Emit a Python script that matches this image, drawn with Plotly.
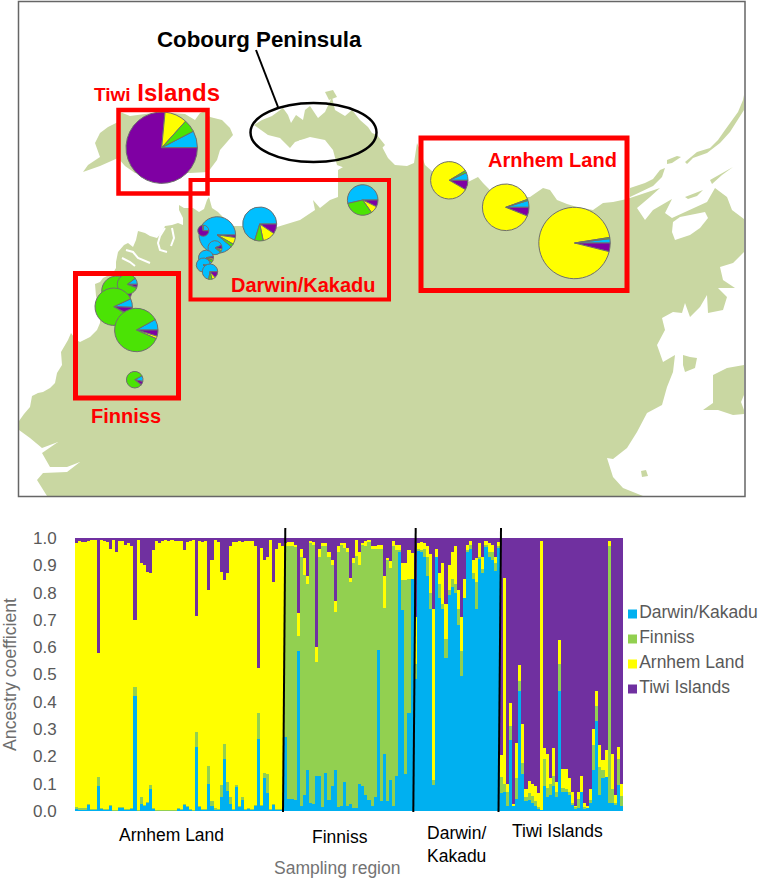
import plotly.graph_objects as go

W, H = 759, 879
FONT = "Liberation Sans"

# ---------- ancestry coefficients: cumulative tops (blue, blue+green, blue+green+yellow); purple fills to 1
arnhem_rows = [
(.01,.015,.98),(.005,.01,.99),(.005,.01,.985),(.005,.01,.985),(.025,.027,.99),(.005,.008,.995),(.005,.008,.995),
(.09,.125,.58),(.01,.012,.995),(.005,.007,.99),(.005,.007,.985),(.02,.022,.96),(.003,.005,.995),(.003,.005,.95),
(.012,.014,.99),(.012,.014,.99),(.005,.007,.975),(.005,.007,.98),(.01,.012,.97),(.42,.455,.70),(.003,.005,.995),
(.025,.05,.91),(.02,.022,.90),(.03,.032,.875),(.08,.095,.87),(.01,.012,.955),(.003,.005,.99),(.003,.005,.98),
(.002,.004,.99),(.002,.004,.992),(.002,.004,.99),(.002,.004,.992),(.002,.004,.99),(.01,.012,.99),(.004,.006,.99),
(.025,.027,.955),(.015,.017,.985),(.004,.006,.99),(.003,.005,.995),(.235,.29,.715),(.015,.02,.99),(.005,.007,.985),
(.004,.006,.99),(.10,.165,.81),(.02,.035,.92),(.005,.01,.995),(.004,.006,.985),(.05,.095,.875),(.19,.245,.845),
(.075,.105,.87),(.025,.05,.97),(.004,.006,.985),(.09,.095,.985),(.015,.017,.99),(.04,.05,.985),(.005,.007,.99),
(.01,.012,.99),(.005,.007,.99),(.02,.022,.97),(.265,.36,.525),(.02,.022,.965),(.12,.14,.92),(.065,.135,.93),
(.005,.007,.995),(.025,.027,.84),(.005,.007,.96),(.005,.007,.98),(.005,.007,.97),
]
finniss_rows = [
(.27,.97,.98),(.045,.97,.985),(.045,.97,.985),(.04,.97,.975),(.585,.64,.725),(.02,.93,.96),(.06,.865,.925),
(.15,.83,.86),(.03,.985,.99),(.025,.975,.985),(.13,.545,.60),(.13,.93,.96),(.015,.97,.98),(.14,.97,.98),
(.04,.93,.95),(.09,.90,.92),(.15,.73,.77),(.015,.95,.97),(.02,.975,.98),(.105,.965,.98),(.02,.95,.965),
(.025,.84,.855),(.01,.91,.925),(.01,.935,.995),(.10,.90,.95),(.09,.975,.98),(.06,.97,.99),(.04,.985,.995),
(.02,.96,.97),(.05,.96,.97),(.59,.96,.975),(.035,.96,.975),(.21,.745,.86),(.035,.92,.925),(.115,.89,.915),
(.02,.97,.99),(.13,.955,.975),(.95,.955,.975),(.735,.845,.91),(.135,.845,.91),(.36,.85,.955),(.85,.85,.945),
]
darwin_rows = [
(.485,.54,.71),(.955,.96,.98),(.95,.955,.985),(.93,.96,.98),(.86,.93,.97),(.74,.80,.94),(.095,.115,.74),
(.93,.93,.96),(.78,.83,.87),(.74,.76,.91),(.56,.63,.76),(.79,.81,.90),(.82,.85,.95),(.80,.83,.97),
(.68,.74,.81),(.495,.585,.71),(.78,.78,.85),(.95,.955,.975),(.96,.975,.99),(.85,.87,.92),(.74,.84,.925),
(.925,.93,.98),(.87,.885,.93),(.97,.975,.99),(.93,.95,.98),(.92,.95,.975),(.88,.91,.93),(.965,.97,.985),
]
tiwi_rows = [
(.065,.125,.205),(.07,.10,.855),(.02,.07,.10),(.26,.31,.395),(.02,.02,.025),(.045,.12,.25),(.44,.475,.535),
(.135,.175,.32),(.035,.05,.08),(.04,.065,.11),(.03,.055,.10),(.02,.035,.09),(.01,.015,.065),(.005,.005,.99),
(.09,.19,.23),(.05,.085,.21),(.06,.10,.12),(.09,.13,.23),(.05,.07,.105),(.44,.54,.625),(.07,.085,.155),
(.07,.08,.155),(.06,.07,.12),(.025,.03,.07),(.01,.015,.02),(.01,.045,.07),(.07,.07,.13),(.01,.015,.03),
(.01,.01,.02),(.03,.04,.08),(.15,.24,.30),(.33,.385,.44),(.06,.16,.24),(.12,.15,.185),(.125,.125,.225),
(.03,.97,.99),(.03,.08,.21),(.025,.03,.06),(.095,.19,.235),(.02,.055,.10),
]
series_names = ["Darwin/Kakadu", "Finniss", "Arnhem Land", "Tiwi Islands"]
bar_colors = ["#00B0F0", "#92D050", "#FFFF00", "#7030A0"]
pie_colors = ["#00BFFF", "#7F00A3", "#FFFF00", "#4BE305"]
y_ticks = [0.0, 0.1, 0.2, 0.3, 0.4, 0.5, 0.6, 0.7, 0.8, 0.9, 1.0]

# ---------- map pies: name, centre, radius, start angle, blue/purple/yellow/green degrees
pies = [
("Tiwi", 161.7, 147.7, 35.7, 62.5, 27.5, 275.4, 36.6, 20.5),
("Arnhem 1", 449.3, 180.3, 18.7, 66, 24, 30, 299, 7),
("Arnhem 2", 505.7, 207.3, 23.3, 73, 17, 22, 318, 3),
("Arnhem 3", 574.5, 243, 35.7, 83, 7, 14, 337, 2),
("Darwin E", 362.7, 200, 15.3, 257, 193, 26, 29, 112),
("Darwin M", 259.7, 224, 17, 197, 253, 34, 44, 29),
("Darwin W", 217.3, 235, 18.3, 130, 320, 8, 22, 10),
("Darwin p", 203.3, 230.7, 5.5, 0, 90, 260, 5, 5),
("Darwin s1", 215, 247.7, 7, 130, 300, 30, 15, 15),
("Darwin s2", 206, 257.7, 7.5, 130, 310, 15, 15, 20),
("Darwin s3", 203.3, 265, 7, 130, 320, 15, 10, 15),
("Darwin s4", 210, 271.7, 7.7, 190, 260, 50, 25, 25),
("Finniss back", 116.7, 291, 15, 60, 30, 22, 4, 304),
("Finniss small", 127.3, 284.3, 10, 53, 37, 18, 4, 301),
("Finniss mid", 113.7, 306.7, 18.7, 65, 27, 25, 3, 305),
("Finniss big", 136.3, 330, 21.7, 61, 29, 16.5, 7, 307.5),
("Finniss south", 134.7, 379.7, 8.3, 62, 40, 25, 3, 292),
]

# ---------- map outlines, in picture pixels
mainland = [
(19,421),(24,414),(30,407),(32,396),(38,393),(43,392),(50,388),(55,383),(57,373),(62,365),(61,352),(68,340),(71,333),
(76,340),(80,342),(90,337),(97,330),(100,323),(100,310),(96,296),(95,284),(100,282),(103,278),(113,273),(116,268),
(116,262),(118,252),(124,245),(128,243),(133,247),(136,240),(138,231),(145,233),(150,236),(157,238),(162,232),(165,226),
(172,225),(178,223),(183,225),(183,218),(179,210),(179,205),(184,208),(193,208),(199,212),(204,209),(207,200),(209,197),
(212,208),(218,212),(232,226),(243,226),(255,228),(277,227),(290,223),(300,220),(315,210),(313,200),(320,208),(330,200),
(338,197),(338,170),(350,163),(367,147),(377,137),(380,143),(388,158),(395,165),(407,166),(414,163),(417,143),(420,150),
(425,165),(433,172),(450,178),(468,182),(478,177),(483,183),(493,193),(513,197),(530,197),(543,188),(550,190),(557,200),
(567,204),(577,207),(593,210),(603,203),(613,202),(627,199),(645,193),(660,188),(650,197),(637,208),(645,220),(653,210),
(672,199),(665,213),(672,218),(690,210),(707,202),(715,188),(727,197),(732,210),(744,219),(744,252),(733,263),(720,267),
(723,280),(735,288),(718,288),(727,297),(723,310),(708,313),(707,295),(700,307),(690,317),(685,303),(682,313),(673,312),
(662,318),(665,330),(657,345),(663,362),(675,355),(673,372),(667,387),(662,405),(647,413),(637,432),(627,448),(613,459),
(607,458),(613,477),(623,488),(643,496),(47,496),(37,480),(43,473),(67,472),(80,462),(67,467),(50,467),(42,453),(58,442),
(42,448),(30,438),(19,430),
]
tiwi_land = [
(83,172),(88,165),(100,157),(95,143),(100,133),(108,127),(118,122),(120,112),(130,116),(160,112),(185,114),(195,120),
(200,113),(205,111),(210,117),(222,120),(230,128),(233,135),(227,142),(220,150),(217,160),(208,172),(190,173),(135,173),
(125,166),(118,158),(100,166),
]
cobourg_land = [
(254,125),(262,120),(272,116),(283,108),(288,115),(291,123),(296,115),(303,120),(305,110),(310,106),(318,118),(325,112),
(332,97),(335,110),(345,116),(352,110),(360,120),(368,127),(372,133),(377,135),(385,145),(370,160),(345,168),(337,165),
(333,150),(325,140),(310,137),(295,142),(290,148),(280,138),(268,135),(258,128),
]
strip_land = [(630,188),(645,183),(653,179),(660,170),(665,168),(662,177),(653,186),(640,192),(630,197)]
wessel_land = [
(685,162),(697,152),(710,148),(718,140),(725,130),(738,112),(743,100),(744,95),(744,110),(730,132),(720,143),(707,153),
(693,158),(687,164),
]
islet_a = [(667,160),(677,156),(681,157),(672,163),(667,164)]
islet_b = [(685,197),(703,190),(697,196),(688,199)]
islet_c = [(710,180),(733,167),(722,175),(712,184)]
islet_d = [(683,355),(690,357),(697,358),(695,368),(685,372),(683,365)]
islet_e = [(641,471),(646,470),(648,476),(642,477)]
islet_f = [(325,92),(333,90),(337,97),(329,100)]
groote_land = [(713,375),(727,368),(744,365),(744,395),(741,402),(744,410),(744,414),(733,415),(718,410),(703,410),(713,403),(713,390)]
land_parts = [mainland, tiwi_land, cobourg_land, strip_land, wessel_land, islet_a, islet_b, islet_c, islet_d, islet_e, islet_f, groote_land]
arnhem_bay = [(673,222),(680,217),(690,215),(705,212),(708,218),(700,228),(690,235),(680,238),(675,240),(672,232)]
cobourg_water = [(300,140),(312,139),(325,142),(331,152),(328,158),(310,158),(296,154),(292,146)]
inlets = [
[(165,228),(160,236),(158,243),(160,250),(167,252)],
[(172,228),(174,238),(171,246)],
[(126,250),(133,252),(138,258),(150,263)],
[(122,258),(130,262),(135,266)],
[(40,465),(52,470)],
]

fig = go.Figure()

def close(pts):
    return [p[0] for p in pts] + [pts[0][0]], [p[1] for p in pts] + [pts[0][1]]

for part in land_parts:
    xs, ys = close(part)
    fig.add_trace(go.Scatter(x=xs, y=ys, xaxis="x2", yaxis="y2", mode="lines", fill="toself",
                             fillcolor="#C9D7A2", line=dict(width=0, color="#C9D7A2"),
                             hoverinfo="skip", showlegend=False))
for part in [arnhem_bay, cobourg_water]:
    xs, ys = close(part)
    fig.add_trace(go.Scatter(x=xs, y=ys, xaxis="x2", yaxis="y2", mode="lines", fill="toself",
                             fillcolor="white", line=dict(width=0, color="white"),
                             hoverinfo="skip", showlegend=False))
for part in inlets:
    fig.add_trace(go.Scatter(x=[p[0] for p in part], y=[p[1] for p in part], xaxis="x2", yaxis="y2", mode="lines",
                             line=dict(width=2, color="white"), hoverinfo="skip", showlegend=False))

for name, cx, cy, r, start, blue, purple, yellow, green in pies:
    fig.add_trace(go.Pie(
        values=[blue, purple, yellow, green], labels=["Darwin/Kakadu", "Tiwi Islands", "Arnhem Land", "Finniss"],
        name=name, sort=False, direction="clockwise", rotation=start, textinfo="none", hoverinfo="skip",
        showlegend=False, marker=dict(colors=pie_colors, line=dict(color="#6E6E6E", width=1)),
        domain=dict(x=[(cx - r) / W, (cx + r) / W], y=[1 - (cy + r) / H, 1 - (cy - r) / H]),
    ))

rows = arnhem_rows + finniss_rows + darwin_rows + tiwi_rows
idx = list(range(len(rows)))
segments = [
    [r[0] for r in rows],
    [r[1] - r[0] for r in rows],
    [r[2] - r[1] for r in rows],
    [1 - r[2] for r in rows],
]
for name, col, seg_vals in zip(series_names, bar_colors, segments):
    fig.add_trace(go.Bar(x=idx, y=seg_vals, name=name, marker=dict(color=col, line=dict(width=0)),
                         xaxis="x", yaxis="y", showlegend=False))

fig.add_trace(go.Scatter(
    x=[632.5] * 4, y=[614, 639, 664, 689], xaxis="x2", yaxis="y2", mode="markers+text",
    marker=dict(symbol="square", size=9, color=bar_colors, line=dict(width=0)),
    text=series_names, textposition="middle right", textfont=dict(family=FONT, size=17.5, color="#595959"),
    hoverinfo="skip", showlegend=False, cliponaxis=False,
))

RED = "#FF0000"
def rect(x0, y0, x1, y1, color, width):
    return dict(type="rect", xref="x2", yref="y2", x0=x0, y0=y0, x1=x1, y1=y1, line=dict(color=color, width=width), layer="above")
def seg(x0, y0, x1, y1, color, width):
    return dict(type="line", xref="x2", yref="y2", x0=x0, y0=y0, x1=x1, y1=y1, line=dict(color=color, width=width), layer="above")

shapes = [
    rect(18.5, 1.5, 745, 496.5, "#666666", 1.5),
    rect(118.5, 110, 207.5, 193.5, RED, 4.5),
    rect(190.5, 180, 389, 299.5, RED, 4),
    rect(421, 138, 627, 290.5, RED, 5),
    rect(75.5, 273.5, 178.5, 398, RED, 5),
    dict(type="circle", xref="x2", yref="y2", x0=250.5, y0=103, x1=376.5, y1=162, line=dict(color="black", width=2.5), layer="above"),
    seg(256, 50, 278, 107, "black", 2),
    seg(285.3, 528, 283, 812, "black", 2),
    seg(415.7, 528, 413.3, 812, "black", 2),
    seg(501, 528, 498.5, 812, "black", 2),
]

def note(text, x, y, size, color, bold=False, angle=0):
    t = f"<b>{text}</b>" if bold else text
    return dict(text=t, x=x, y=y, xref="x2", yref="y2", showarrow=False, xanchor="center", yanchor="middle",
                textangle=angle, font=dict(family=FONT, size=size, color=color))

annotations = [
    note("Cobourg Peninsula", 259.5, 39, 22.3, "black", True),
    note('<span style="font-size:19px">Tiwi</span> Islands', 156.5, 92, 24, RED, True),
    note("Arnhem Land", 552, 160, 20, RED, True),
    note("Darwin/Kakadu", 302.5, 285, 20, RED, True),
    note("Finniss", 125.5, 416, 20, RED, True),
    note("Arnhem Land", 171.7, 835, 17.5, "black"),
    note("Finniss", 340, 836.7, 17.5, "black"),
    note("Darwin/<br>Kakadu", 456, 844.5, 17.5, "black"),
    note("Tiwi Islands", 557.5, 830.7, 17.5, "black"),
    note("Sampling region", 337, 868, 17.5, "#737373"),
    note("Ancestry coefficient", 10, 675, 17.7, "#6E6E6E", angle=-90),
]

fig.update_layout(
    width=W, height=H, margin=dict(l=0, r=0, t=0, b=0), paper_bgcolor="white", plot_bgcolor="rgba(0,0,0,0)",
    barmode="stack", bargap=0, showlegend=False, shapes=shapes, annotations=annotations,
    xaxis=dict(domain=[75 / W, 623 / W], range=[-0.5, len(rows) - 0.5], visible=False, fixedrange=True, automargin=False),
    yaxis=dict(domain=[1 - 811 / H, 1 - 538 / H], range=[0, 1], tickvals=y_ticks, ticktext=[f"{v:.1f}" for v in y_ticks],
               showgrid=False, zeroline=False, showline=False, ticks="outside", ticklen=14, tickcolor="rgba(0,0,0,0)",
               tickfont=dict(family=FONT, size=17, color="#595959"), fixedrange=True, automargin=False),
    xaxis2=dict(domain=[0, 1], range=[0, W], visible=False, fixedrange=True, anchor="y2", automargin=False),
    yaxis2=dict(domain=[0, 1], range=[H, 0], visible=False, fixedrange=True, anchor="x2", automargin=False),
)

fig.write_html("out.html", config=dict(displayModeBar=False),
               post_script="document.body.style.margin='0';document.body.style.overflow='hidden';")
